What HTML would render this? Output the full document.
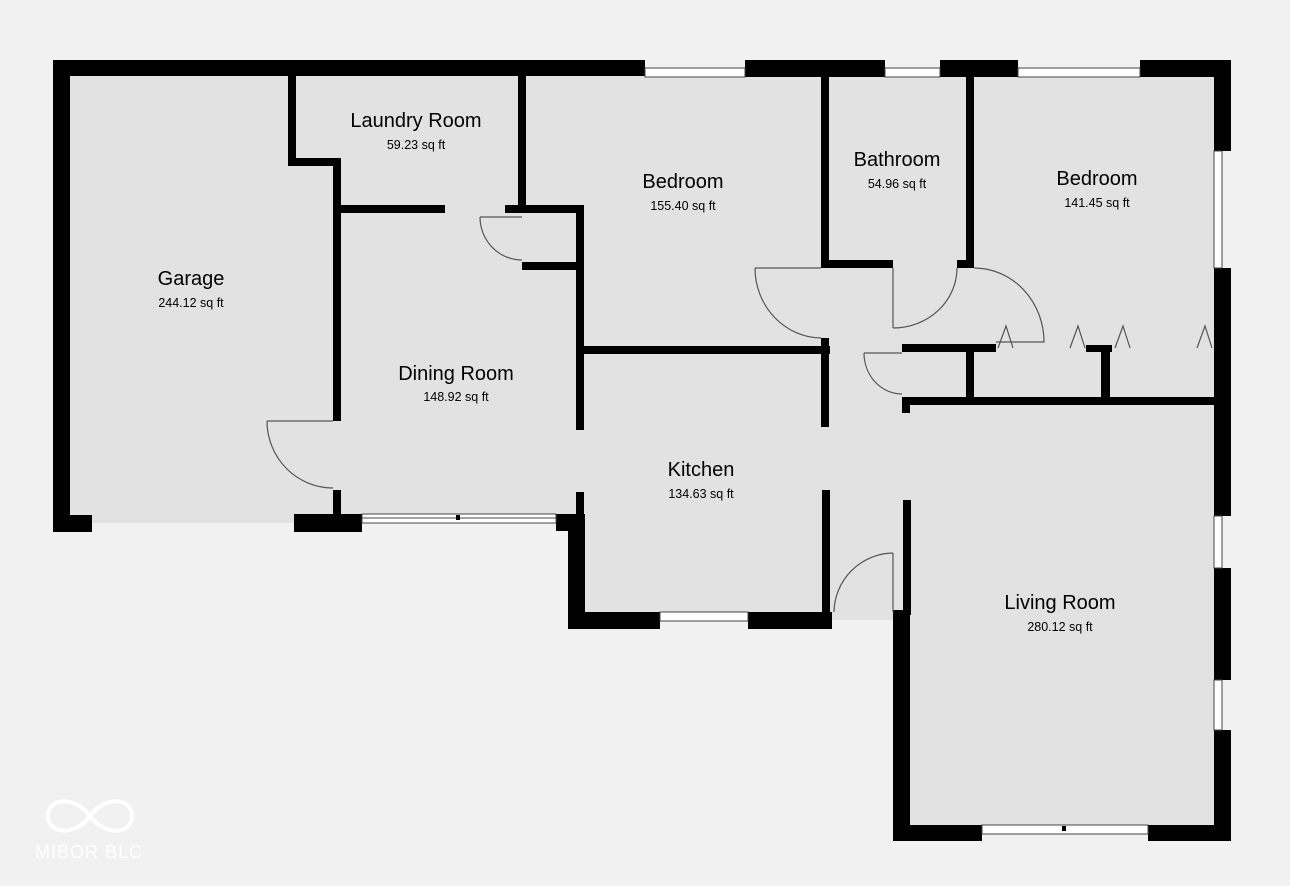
<!DOCTYPE html>
<html><head><meta charset="utf-8"><style>
html,body{margin:0;padding:0;background:#f1f1f1;}
svg{display:block;}
text{font-family:"Liberation Sans",sans-serif;fill:#000;text-anchor:middle;}
.t{font-size:20px;}
.s{font-size:12.5px;}
.d{fill:none;stroke:#555;stroke-width:1.2;}
.w{fill:#fff;stroke:#444;stroke-width:1;}
</style></head><body>
<svg width="1290" height="886" viewBox="0 0 1290 886" xmlns="http://www.w3.org/2000/svg">
<rect width="1290" height="886" fill="#f1f1f1"/>
<g fill="#e2e2e2">
<rect x="69" y="76" width="270" height="447"/>
<rect x="296" y="76" width="918" height="440"/>
<rect x="584" y="515" width="326" height="105"/>
<rect x="909" y="405" width="305" height="420"/>
</g>
<g fill="#000">
<rect x="53" y="60" width="592" height="16"/>
<rect x="53" y="60" width="17" height="472"/>
<rect x="53" y="515" width="39" height="17"/>
<rect x="294" y="514" width="68" height="18"/>
<rect x="556" y="514" width="29" height="17"/>
<rect x="568" y="514" width="17" height="115"/>
<rect x="568" y="612" width="92" height="17"/>
<rect x="748" y="612" width="84" height="17"/>
<rect x="745" y="60" width="140" height="17"/>
<rect x="940" y="60" width="78" height="17"/>
<rect x="1140" y="60" width="91" height="17"/>
<rect x="1214" y="60" width="17" height="91"/>
<rect x="1214" y="268" width="17" height="248"/>
<rect x="1214" y="568" width="17" height="112"/>
<rect x="1214" y="730" width="17" height="111"/>
<rect x="1148" y="825" width="83" height="16"/>
<rect x="893" y="825" width="89" height="16"/>
<rect x="893" y="610" width="17" height="231"/>
<rect x="903" y="500" width="8" height="115"/>
<rect x="288" y="76" width="8" height="90"/>
<rect x="288" y="158" width="52" height="8"/>
<rect x="333" y="158" width="8" height="263"/>
<rect x="333" y="490" width="8" height="25"/>
<rect x="340" y="205" width="105" height="8"/>
<rect x="518" y="76" width="8" height="137"/>
<rect x="505" y="205" width="78" height="8"/>
<rect x="522" y="262" width="61" height="8"/>
<rect x="576" y="205" width="8" height="225"/>
<rect x="576" y="492" width="8" height="25"/>
<rect x="584" y="346" width="246" height="8"/>
<rect x="821" y="76" width="8" height="192"/>
<rect x="821" y="260" width="72" height="8"/>
<rect x="821" y="338" width="8" height="89"/>
<rect x="822" y="490" width="8" height="122"/>
<rect x="966" y="76" width="8" height="192"/>
<rect x="957" y="260" width="17" height="8"/>
<rect x="902" y="344" width="94" height="8"/>
<rect x="966" y="344" width="8" height="55"/>
<rect x="902" y="397" width="312" height="8"/>
<rect x="902" y="397" width="8" height="16"/>
<rect x="1086" y="345" width="26" height="7"/>
<rect x="1101" y="345" width="9" height="56"/>
</g>
<rect class="w" x="362" y="514" width="194" height="9"/>
<line x1="362" y1="518" x2="556" y2="518" stroke="#444"/>
<rect x="456" y="515" width="4" height="5" fill="#000"/>
<rect class="w" x="645" y="68" width="100" height="9"/>
<rect class="w" x="885" y="68" width="55" height="9"/>
<rect class="w" x="1018" y="68" width="122" height="9"/>
<rect class="w" x="1214" y="151" width="8" height="117"/>
<rect class="w" x="1214" y="516" width="8" height="52"/>
<rect class="w" x="1214" y="680" width="8" height="50"/>
<rect class="w" x="660" y="612" width="88" height="9"/>
<rect class="w" x="982" y="825" width="166" height="9"/>
<rect x="1062" y="826" width="4" height="5" fill="#000"/>
<path class="d" d="M267 421 H333 M267 421 A66 67 0 0 0 333 488"/>
<path class="d" d="M480 217 H522 M480 217 A42 43 0 0 0 522 260"/>
<path class="d" d="M755 268 H821 M755 268 A67 70 0 0 0 821 338"/>
<path class="d" d="M893 268 V328 M893 328 A64 60 0 0 0 957 268"/>
<path class="d" d="M974 268 A70 74 0 0 1 1044 342 H996"/>
<path class="d" d="M864 353 H902 M864 353 A38 41 0 0 0 902 394"/>
<path class="d" d="M893 553 V612 M893 553 A60 60 0 0 0 834 612"/>
<path class="d" d="M998 348 L1006 326 L1013 348 M1070 348 L1078 326 L1085 348 M1115 348 L1123 326 L1130 348 M1197 348 L1205 326 L1212 348"/>
<text class="t" x="191" y="285">Garage</text><text class="s" x="191" y="307">244.12 sq ft</text>
<text class="t" x="416" y="127">Laundry Room</text><text class="s" x="416" y="149">59.23 sq ft</text>
<text class="t" x="683" y="188">Bedroom</text><text class="s" x="683" y="210">155.40 sq ft</text>
<text class="t" x="897" y="166">Bathroom</text><text class="s" x="897" y="188">54.96 sq ft</text>
<text class="t" x="1097" y="185">Bedroom</text><text class="s" x="1097" y="207">141.45 sq ft</text>
<text class="t" x="456" y="380">Dining Room</text><text class="s" x="456" y="401">148.92 sq ft</text>
<text class="t" x="701" y="476">Kitchen</text><text class="s" x="701" y="498">134.63 sq ft</text>
<text class="t" x="1060" y="609">Living Room</text><text class="s" x="1060" y="631">280.12 sq ft</text>
<path d="M90 816 C75 795 48 798 48 816 C48 834 75 837 90 816 C105 795 132 798 132 816 C132 834 105 837 90 816 Z" fill="none" stroke="#fff" stroke-width="4"/>
<text x="89" y="858" style="font-size:18px;fill:#fff;letter-spacing:1px">MIBOR BLC</text>
</svg>
</body></html>
